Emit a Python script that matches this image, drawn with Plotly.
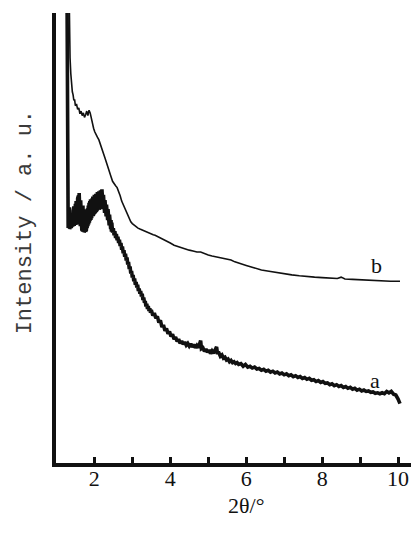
import plotly.graph_objects as go

# ---- data ----
a_x = [1.28, 1.29, 1.295,
       1.30, 1.31, 1.32, 1.33, 1.34, 1.35, 1.36, 1.37, 1.38, 1.39, 1.40, 1.41, 1.42, 1.43, 1.44, 1.45,
       1.46, 1.47, 1.48, 1.49, 1.50, 1.51, 1.52, 1.53, 1.54, 1.55, 1.56, 1.57, 1.58, 1.59, 1.60, 1.61,
       1.62, 1.63, 1.64, 1.65, 1.66, 1.67, 1.68, 1.69, 1.70, 1.71, 1.72, 1.73, 1.74, 1.75, 1.76, 1.77,
       1.78, 1.79, 1.80, 1.81, 1.82, 1.83, 1.84, 1.85, 1.86, 1.87, 1.88, 1.89, 1.90, 1.91, 1.92, 1.93,
       1.94, 1.95, 1.96, 1.97, 1.98, 1.99, 2.00, 2.01, 2.02, 2.03, 2.04, 2.05, 2.06, 2.07, 2.08, 2.09,
       2.10, 2.11, 2.12, 2.13, 2.14, 2.15, 2.16, 2.17, 2.18, 2.19, 2.20, 2.21, 2.22, 2.23, 2.24, 2.25,
       2.26, 2.27, 2.28, 2.29, 2.30, 2.31, 2.32, 2.33, 2.34, 2.35, 2.36, 2.37, 2.38, 2.39, 2.40, 2.41,
       2.42, 2.43, 2.44, 2.45, 2.46,
       2.48, 2.50, 2.52, 2.54, 2.56, 2.58, 2.60, 2.62, 2.64, 2.66, 2.68, 2.70, 2.72, 2.74, 2.76, 2.78,
       2.80, 2.82, 2.84, 2.86, 2.88, 2.90, 2.92, 2.94, 2.96, 2.98, 3.00, 3.02, 3.04, 3.06, 3.08, 3.10,
       3.12, 3.14, 3.16, 3.18, 3.20, 3.22, 3.24, 3.26, 3.28, 3.30, 3.32, 3.34, 3.36, 3.38, 3.40, 3.42,
       3.44, 3.46, 3.48, 3.50,
       3.54, 3.58, 3.62, 3.66, 3.70, 3.74, 3.78, 3.82, 3.86, 3.90, 3.94, 3.98, 4.02, 4.06, 4.10, 4.14,
       4.18, 4.22, 4.26, 4.30, 4.34, 4.38, 4.42, 4.46, 4.50, 4.54, 4.58, 4.62, 4.66, 4.70, 4.74, 4.78,
       4.80, 4.82, 4.86, 4.90, 4.94, 4.98, 5.02, 5.06, 5.10, 5.14, 5.18, 5.22, 5.24, 5.28, 5.32, 5.36,
       5.40, 5.44, 5.48, 5.52, 5.56, 5.60, 5.64, 5.68, 5.72, 5.76, 5.80,
       5.86, 5.92, 5.98, 6.04, 6.10, 6.16, 6.22, 6.28, 6.34, 6.40, 6.46, 6.52, 6.58, 6.64, 6.70, 6.76,
       6.82, 6.88, 6.94, 7.00, 7.06, 7.12, 7.18, 7.24, 7.30, 7.36, 7.42, 7.48, 7.54, 7.60, 7.66, 7.72,
       7.78, 7.84, 7.90, 7.96, 8.02, 8.08, 8.14, 8.20, 8.26, 8.32, 8.38, 8.44, 8.50, 8.56, 8.62, 8.68,
       8.74, 8.80, 8.86, 8.92, 8.98, 9.04, 9.10, 9.16, 9.22, 9.28, 9.34, 9.40, 9.46, 9.52, 9.58, 9.64,
       9.70, 9.76, 9.82, 9.88, 9.94, 10.00, 10.05]
a_y = [105, 75, 54,
       56, 52.2, 55.5, 52.4, 56.8, 52, 54.8, 52.6, 55.6, 52.3, 54.2, 52.8, 55, 52.5, 56, 53,
       57, 52.7, 56.4, 53.2, 57.6, 52.9, 58.2, 53.4, 57.2, 53, 58.8, 53.8, 59.4, 53.2, 60, 54,
       59.2, 52.6, 58.4, 52.2, 57.6, 51.6, 56.8, 51.4, 57.2, 51.8, 56, 51.3, 55.6, 51.6, 56.4, 51.5,
       55.4, 51.8, 55.8, 52.2, 56.6, 52.6, 57.2, 53, 57.8, 53.4, 58.2, 53.8, 58.6, 54, 58, 54.4,
       58.8, 54.8, 59.2, 55, 58.6, 55.4, 59.6, 55.6, 59, 55.8, 59.8, 56, 59.4, 56.2, 60.2, 56.4,
       59.6, 56.6, 60.4, 56.4, 60, 56.8, 60.6, 56.6, 60.2, 57, 60.8, 56.8, 60, 56.4, 59.6, 56,
       59, 55.6, 58.4, 55.2, 58, 54.8, 57.4, 54.4, 57, 54, 56.4, 53.4, 55.8, 52.8, 55.2, 52.4,
       54.6, 52, 54, 51.4, 53.4,
       51.2, 52.2, 50.6, 51.5, 50, 50.9, 49.5, 50.3, 48.9, 49.6, 48.2, 48.9, 47.4, 48.1, 46.6, 47.3,
       45.8, 46.5, 45, 45.7, 44.1, 44.7, 43.1, 43.7, 42.1, 42.7, 41.2, 41.8, 40.4, 41, 39.6, 40.2,
       39, 39.6, 38.2, 38.8, 37.6, 38.2, 37, 37.6, 36.2, 36.8, 35.6, 36, 34.8, 35.4, 34.2, 34.9,
       33.8, 34.4, 33.4, 34.0,
       32.8, 33.3, 32.2, 32.6, 31.2, 31.7, 30.2, 30.7, 29.4, 29.9, 28.7, 29.2, 28.1, 28.6, 27.5, 28,
       27, 27.5, 26.6, 27.1, 26.4, 26.9, 26.2, 26.6, 26, 26.5, 25.8, 26.3, 25.6, 26.1, 25.6, 26.6,
       27.2, 25.4, 25.6, 24.8, 25.3, 24.6, 25.1, 24.3, 24.9, 24.4, 25.2, 25.8, 24.5, 24.5, 23.7, 24,
       23.3, 23.5, 22.9, 23.1, 22.5, 22.8, 22.3, 22.5, 22.1, 22.3, 21.9,
       22.1, 21.5, 21.9, 21.3, 21.5, 21.1, 21.3, 20.9, 21.0, 20.6, 20.8, 20.4, 20.6, 20.2, 20.4, 20.0,
       20.2, 19.8, 20.0, 19.6, 19.8, 19.4, 19.6, 19.2, 19.4, 19.0, 19.2, 18.8, 19.0, 18.6, 18.8, 18.4,
       18.5, 18.1, 18.3, 17.9, 18.1, 17.7, 17.8, 17.4, 17.6, 17.2, 17.4, 17.0, 17.2, 16.8, 17.0, 16.6,
       16.8, 16.4, 16.6, 16.2, 16.4, 16.0, 16.2, 15.9, 16.0, 15.7, 15.8, 15.5, 15.6, 15.4, 15.6, 15.4,
       15.9, 15.6, 15.9, 15.3, 15.1, 14.2, 13.2]

b_x = [1.33, 1.335, 1.345, 1.36, 1.38, 1.40, 1.42, 1.44, 1.46, 1.48, 1.50, 1.53, 1.56, 1.59, 1.62,
       1.65, 1.68, 1.71, 1.74, 1.77, 1.80, 1.83, 1.86, 1.89, 1.92, 1.95, 1.98, 2.01, 2.04, 2.08, 2.12,
       2.16, 2.20, 2.24, 2.28, 2.32, 2.36, 2.40, 2.44, 2.48, 2.52, 2.56, 2.60, 2.64, 2.68, 2.72, 2.76,
       2.80, 2.84, 2.88, 2.92, 2.96, 3.00, 3.05, 3.10, 3.15, 3.20, 3.25, 3.30, 3.35, 3.40, 3.45, 3.50,
       3.55, 3.60, 3.65, 3.70, 3.80, 3.90, 4.00, 4.10, 4.20, 4.30, 4.40, 4.50, 4.60, 4.70, 4.80, 4.90,
       5.00, 5.10, 5.20, 5.30, 5.40, 5.50, 5.60, 5.70, 5.80, 5.90, 6.00, 6.20, 6.40, 6.60, 6.80, 7.00,
       7.20, 7.40, 7.60, 7.80, 8.00, 8.20, 8.40, 8.50, 8.60, 8.80, 9.00, 9.20, 9.40, 9.60, 9.80, 10.00,
       10.05]
b_y = [108, 100, 94, 90, 86.5, 84, 82.5, 81.8, 80.6, 80.8, 79.4, 79.8, 78.6, 78.9, 77.6,
       78.2, 77.2, 77.8, 76.8, 77.4, 78.2, 77.2, 78.4, 77.8, 76.4, 75.2, 74.4, 73.6, 73.2, 72.4, 71.8,
       70.6, 70, 68.8, 67.8, 66.6, 65.8, 64.8, 63.6, 62.6, 62, 61.6, 61.2, 60.4, 59.4, 58.2, 57.4,
       56.4, 55.6, 55, 54.2, 53.6, 53.2, 52.8, 52.4, 52.2, 52, 51.8, 51.6, 51.4, 51.2, 51, 50.9,
       50.7, 50.6, 50.4, 50.2, 49.7, 49.3, 48.9, 48.4, 48.1, 47.8, 47.6, 47.3, 47.1, 46.9, 46.9, 46.5,
       46.2, 46.0, 45.8, 45.6, 45.4, 45.3, 45.1, 44.7, 44.4, 44.2, 43.9, 43.4, 42.9, 42.6, 42.3, 42.0,
       41.8, 41.6, 41.4, 41.3, 41.2, 41.1, 41.0, 41.3, 40.9, 40.8, 40.7, 40.6, 40.5, 40.4, 40.4, 40.4,
       40.4]

tick_vals = [2, 3, 4, 5, 6, 7, 8, 9, 10]
tick_text = ["2", "", "4", "", "6", "", "8", "", "10"]

fig = go.Figure()
fig.add_trace(go.Scatter(x=a_x, y=a_y, mode="lines",
                         line=dict(color="#111111", width=3.6), showlegend=False))
fig.add_trace(go.Scatter(x=b_x, y=b_y, mode="lines",
                         line=dict(color="#111111", width=1.6), showlegend=False))

serif = "Liberation Serif"
fig.update_layout(
    width=411, height=534,
    margin=dict(l=56, r=0, t=13, b=71),
    paper_bgcolor="white", plot_bgcolor="white",
    font=dict(family=serif, color="#111111"),
    xaxis=dict(range=[0.99, 10.34], showgrid=False, zeroline=False,
               showline=True, linecolor="#111111", linewidth=4,
               tickvals=tick_vals, ticktext=tick_text,
               ticks="inside", ticklen=6, tickwidth=2.5, tickcolor="#111111",
               ticklabelstandoff=-7,
               tickfont=dict(family=serif, size=22, color="#111111")),
    yaxis=dict(range=[0, 100], showgrid=False, zeroline=False,
               showline=True, linecolor="#111111", linewidth=4,
               showticklabels=False, ticks=""),
    annotations=[
        dict(text="2θ/°", x=0.535, y=-0.062, xref="paper", yref="paper",
             showarrow=False, xanchor="center", yanchor="top",
             font=dict(family=serif, size=22, color="#111111")),
        dict(text="Intensity / a. u.", x=-0.087, y=0.535, xref="paper", yref="paper",
             showarrow=False, textangle=-90, xanchor="center", yanchor="middle",
             font=dict(family="Liberation Mono", size=22, color="#3a3a3a")),
        dict(text="a", x=9.40, y=18.4, xref="x", yref="y", showarrow=False,
             font=dict(family=serif, size=22, color="#111111")),
        dict(text="b", x=9.42, y=43.8, xref="x", yref="y", showarrow=False,
             font=dict(family=serif, size=22, color="#111111")),
    ],
)

fig.write_html("out.html", config={"displayModeBar": False},
               post_script="document.body.style.margin='0';document.body.style.padding='0';")
